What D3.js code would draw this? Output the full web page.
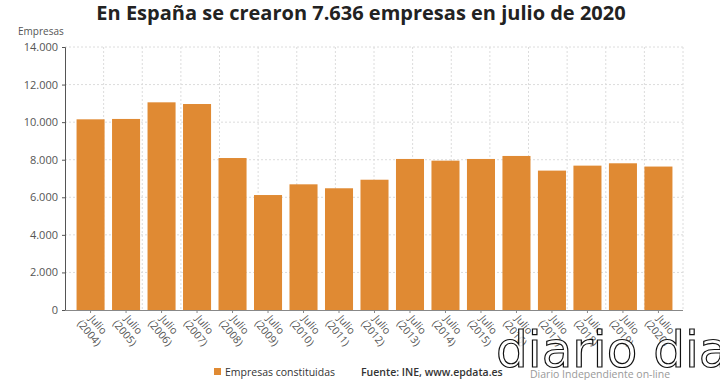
<!DOCTYPE html>
<html>
<head>
<meta charset="utf-8">
<script src="https://cdn.jsdelivr.net/npm/d3@7"></script>
<style>
  body { margin: 0; background: #fff; }
  svg { font-family: 'Open Sans', sans-serif; }
</style>
</head>
<body>
<div id="chart"></div>
<script>
const years = ['2004', '2005', '2006', '2007', '2008', '2009', '2010', '2011', '2012',
  '2013', '2014', '2015', '2016', '2017', '2018', '2019', '2020'];
const empresas = [10150, 10170, 11055, 10965, 8090, 6120, 6690, 6480, 6935,
  8040, 7950, 8040, 8200, 7420, 7685, 7810, 7636];
const yTicks = [0, 2000, 4000, 6000, 8000, 10000, 12000, 14000];

const width = 720, height = 380;
const plot = { left: 65, right: 683, top: 47, bottom: 310 };

const svg = d3.select('#chart').append('svg')
  .attr('width', width)
  .attr('height', height);

const x = d3.scaleBand()
  .domain(years)
  .range([73, 676])
  .paddingInner(0.21)
  .paddingOuter(0.1);

const y = d3.scaleLinear()
  .domain([0, 14000])
  .range([plot.bottom, plot.top]);

// title
svg.append('text')
  .attr('x', 361)
  .attr('y', 20)
  .attr('text-anchor', 'middle')
  .style('font-size', '20px')
  .style('font-weight', 'bold')
  .style('fill', '#222')
  .text('En España se crearon 7.636 empresas en julio de 2020');

svg.append('text')
  .attr('x', 18)
  .attr('y', 35)
  .style('font-size', '10px')
  .style('fill', '#555')
  .text('Empresas');

// grid
const grid = svg.append('g').attr('class', 'grid');
grid.selectAll('line.h')
  .data(yTicks.filter(d => d > 0))
  .enter().append('line')
  .attr('x1', plot.left).attr('x2', plot.right)
  .attr('y1', d => y(d)).attr('y2', d => y(d))
  .style('stroke', '#dcdcdc')
  .style('stroke-dasharray', '2,2');

const vx = d3.scaleLinear().domain([0, 16]).range([plot.left, plot.right]);
grid.selectAll('line.v')
  .data(d3.range(1, 17))
  .enter().append('line')
  .attr('x1', d => vx(d)).attr('x2', d => vx(d))
  .attr('y1', plot.top).attr('y2', plot.bottom)
  .style('stroke', '#dcdcdc')
  .style('stroke-dasharray', '2,2');

// bars
svg.append('g').selectAll('rect')
  .data(empresas)
  .enter().append('rect')
  .attr('x', (d, i) => x(years[i]))
  .attr('width', x.bandwidth())
  .attr('y', d => y(d))
  .attr('height', d => y(0) - y(d))
  .style('fill', '#e08a33');

// y axis
const yAxis = svg.append('g')
  .attr('transform', `translate(${plot.left},0)`)
  .call(d3.axisLeft(y).tickValues(yTicks).tickFormat(d => d3.format(',')(d).replace(/,/g, '.')).tickSize(3).tickPadding(4));
yAxis.select('.domain').style('stroke', '#555');
yAxis.selectAll('.tick line').style('stroke', '#555');
yAxis.selectAll('text').style('font-size', '11px').style('fill', '#555').style('font-family', "'Open Sans', sans-serif");

// x axis
const xAxis = svg.append('g')
  .attr('transform', `translate(0,${plot.bottom})`)
  .call(d3.axisBottom(x).tickSize(3).tickFormat(''));
xAxis.select('.domain').attr('d', `M${plot.left},0.5H${plot.right}`).style('stroke', '#888');
xAxis.selectAll('.tick line').style('stroke', '#888');

const lbl = svg.append('g').selectAll('text')
  .data(years)
  .enter().append('text')
  .attr('transform', d => `translate(${x(d) + x.bandwidth() / 2 - 2},${plot.bottom + 9}) rotate(50)`)
  .style('font-size', '10.5px')
  .style('fill', '#555');
lbl.append('tspan').attr('x', 0).attr('y', 0).text('Julio');
lbl.append('tspan').attr('x', -4).attr('dy', '1.15em').text(d => `(${d})`);

// legend
svg.append('rect')
  .attr('x', 214).attr('y', 368)
  .attr('width', 7).attr('height', 7)
  .style('fill', '#e08a33');
svg.append('text')
  .attr('x', 225).attr('y', 376)
  .style('font-size', '10.5px').style('fill', '#333')
  .text('Empresas constituidas');
svg.append('text')
  .attr('x', 361).attr('y', 376)
  .style('font-size', '10.5px').style('fill', '#333').style('font-weight', '600')
  .text('Fuente: INE, www.epdata.es');

// watermark
svg.append('text')
  .attr('x', 496).attr('y', 367)
  .style('font-family', "'DejaVu Sans', sans-serif")
  .style('font-size', '50px')
  .style('fill', '#fff')
  .style('fill-opacity', 0.85)
  .style('stroke', '#111')
  .style('stroke-width', 1.2)
  .text('diario dia');
svg.append('text')
  .attr('x', 530).attr('y', 378)
  .style('font-size', '10.5px').style('fill', '#999')
  .text('Diario Independiente on-line');
</script>
</body>
</html>
